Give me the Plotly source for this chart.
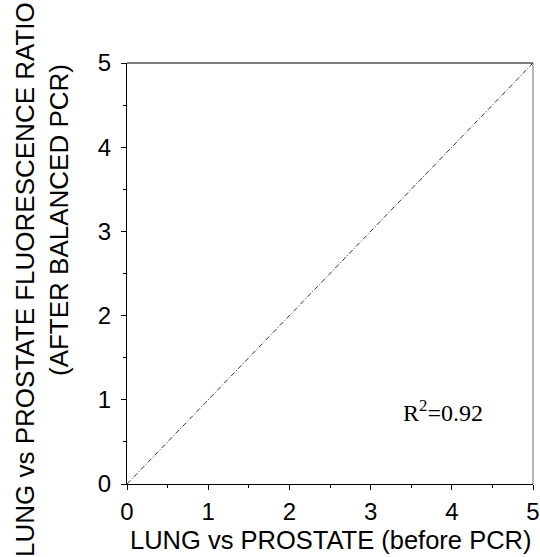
import plotly.graph_objects as go

# Data
line_x = [0, 5]
line_y = [0, 5]
tick_vals = [0, 1, 2, 3, 4, 5]
tick_text = ["0", "1", "2", "3", "4", "5"]
r2_label = "R<sup>2</sup>=0.92"
r2_pos = (3.89, 0.87)
x_title = "LUNG vs PROSTATE (before PCR)"
y_title_1 = "LUNG vs PROSTATE FLUORESCENCE RATIO"
y_title_2 = "(AFTER BALANCED PCR)"

SANS = "Liberation Sans, Arial, sans-serif"

fig = go.Figure()
fig.add_trace(go.Scatter(
    x=line_x, y=line_y, mode="lines",
    line=dict(color="#333333", width=1, dash="5px,2px,1px,2px"),
    showlegend=False, hoverinfo="skip",
))

fig.add_annotation(
    x=r2_pos[0], y=r2_pos[1], text=r2_label, showarrow=False,
    font=dict(family="Liberation Serif, Times New Roman, serif", size=24, color="black"),
    xanchor="center", yanchor="middle",
)

# axis titles (anchored in data space so they do not push the margins)
fig.add_annotation(xref="x", yref="y", x=2.5, y=0, text=x_title,
                   showarrow=False, xanchor="center", yanchor="middle",
                   xshift=0, yshift=-56,
                   font=dict(family=SANS, size=25.5, color="black"))
fig.add_annotation(xref="x", yref="y", x=0, y=2.423, text=y_title_1,
                   showarrow=False, textangle=-90, xanchor="center", yanchor="middle",
                   xshift=25 - 127,
                   font=dict(family=SANS, size=26, color="black"))
fig.add_annotation(xref="x", yref="y", x=0, y=3.135, text=y_title_2,
                   showarrow=False, textangle=-90, xanchor="center", yanchor="middle",
                   xshift=59 - 127,
                   font=dict(family=SANS, size=26, color="black"))

# grey right border
fig.add_shape(type="line", xref="paper", yref="paper", x0=1, x1=1, y0=0, y1=1,
              line=dict(color="#888888", width=1.2))
# top border
fig.add_shape(type="line", xref="paper", yref="paper", x0=0, x1=1, y0=1, y1=1,
              line=dict(color="black", width=1.2))

axis_common = dict(
    range=[0, 5], tickvals=tick_vals, ticktext=tick_text,
    ticks="outside", ticklen=5, tickwidth=1, tickcolor="black",
    showline=True, linecolor="black", linewidth=1.2,
    showgrid=False, zeroline=False, automargin=False,
    tickfont=dict(family=SANS, size=24, color="black"),
    minor=dict(ticks="outside", dtick=0.5, ticklen=3, tickcolor="black", showgrid=False),
)

fig.update_xaxes(**axis_common, mirror=False, ticklabelstandoff=1)
fig.update_yaxes(**axis_common, mirror=False, ticklabelstandoff=5)

fig.update_layout(
    width=540, height=557,
    margin=dict(l=127, r=7, t=63, b=73, autoexpand=False),
    plot_bgcolor="white", paper_bgcolor="white",
)

fig.write_html(
    "out.html",
    config={"displayModeBar": False},
    post_script="document.body.style.margin='0';document.documentElement.style.overflow='hidden';",
)
